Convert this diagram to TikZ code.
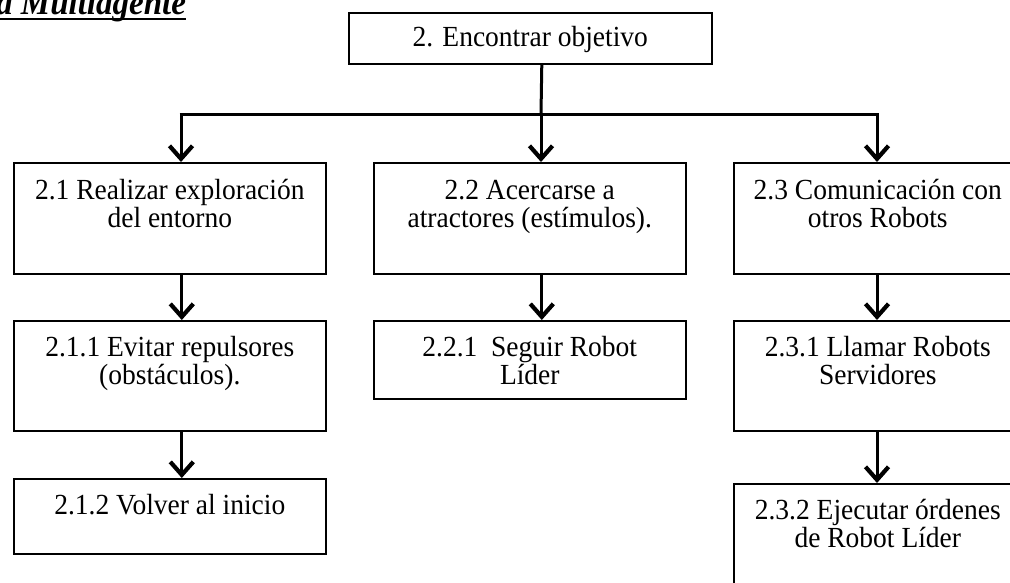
\documentclass[tikz,border=0pt]{standalone}
\usepackage{fontspec}
\setmainfont{Liberation Serif}
\usetikzlibrary{arrows.meta}
% slightly tall setting of the box texts
\newcommand\talltext[1]{\scalebox{1}[1.06]{#1}}
\begin{document}
\begin{tikzpicture}[x=1pt,y=-1pt,
  box/.style={draw, line width=1.6pt, inner sep=0pt, anchor=north west},
  boxtxt/.style={anchor=base, inner sep=0pt, font=\fontsize{27.5}{27}\selectfont},
  link/.style={line width=3pt},
  arr/.style={line width=3pt, -{Straight Barb[length=13pt,width=23pt,line width=4.2pt]}}
]
\useasboundingbox (0,0) rectangle (1010,582);
\clip (0,0) rectangle (1010,582);

% heading, partly outside the page
\node[anchor=base west, inner sep=0pt, font=\bfseries\itshape\fontsize{33}{33}\selectfont] (title) at (-4,14) {\talltext{a Multiagente}};
\draw[line width=1.5pt] ([yshift=-5pt]title.base west) -- ([yshift=-5pt]title.base east);

% boxes
\node[box, minimum width=363pt, minimum height=51pt]  (top)  at (348,12)  {};
\node[box, minimum width=312pt, minimum height=111pt] (b21)  at (13,162)  {};
\node[box, minimum width=312pt, minimum height=111pt] (b22)  at (373,162) {};
\node[box, minimum width=288pt, minimum height=111pt] (b23)  at (733,162) {};
\node[box, minimum width=312pt, minimum height=110pt] (b211) at (13,320)  {};
\node[box, minimum width=312pt, minimum height=78pt]  (b221) at (373,320) {};
\node[box, minimum width=288pt, minimum height=110pt] (b231) at (733,320) {};
\node[box, minimum width=312pt, minimum height=75pt]  (b212) at (13,478)  {};
\node[box, minimum width=288pt, minimum height=120pt] (b232) at (733,483) {};

% box texts
\node[boxtxt] (ttop) at ([yshift=-34pt]top.north) {\talltext{2. Encontrar objetivo}};
\node[boxtxt] (t21)  at ([yshift=-37pt]b21.north) {\talltext{\parbox[t]{300pt}{\centering 2.1 Realizar exploración\\del entorno}}};
\node[boxtxt] (t22)  at ([yshift=-37pt]b22.north) {\talltext{\parbox[t]{300pt}{\centering 2.2 Acercarse a\\atractores (estímulos).}}};
\node[boxtxt] (t23)  at ([yshift=-37pt]b23.north) {\talltext{\parbox[t]{300pt}{\centering 2.3 Comunicación con\\otros Robots}}};
\node[boxtxt] (t211) at ([yshift=-36pt]b211.north) {\talltext{\parbox[t]{300pt}{\centering 2.1.1 Evitar repulsores\\(obstáculos).}}};
\node[boxtxt] (t221) at ([yshift=-36pt]b221.north) {\talltext{\parbox[t]{300pt}{\centering 2.2.1\ \ Seguir Robot\\Líder}}};
\node[boxtxt] (t231) at ([yshift=-36pt]b231.north) {\talltext{\parbox[t]{300pt}{\centering 2.3.1 Llamar Robots\\Servidores}}};
\node[boxtxt] (t212) at ([yshift=-36pt]b212.north) {\talltext{2.1.2 Volver al inicio}};
\node[boxtxt] (t232) at ([yshift=-36pt]b232.north) {\talltext{\parbox[t]{300pt}{\centering 2.3.2 Ejecutar órdenes\\de Robot Líder}}};

% distribution bus
\coordinate (busL) at (181,114);
\coordinate (busM) at (541,114);
\coordinate (busR) at (877,114);
\draw[link] ([xshift=11.5pt]top.south) -- (busM);
\draw[link] ([xshift=-1.5pt]busL) -- ([xshift=1.5pt]busR);
\draw[arr] (busL) -- (busL |- b21.north);
\draw[arr] (busM) -- (busM |- b22.north);
\draw[arr] (busR) -- (busR |- b23.north);

% second and third levels
\draw[arr] ([xshift=12pt]b21.south) -- ([xshift=12pt]b211.north);
\draw[arr] ([xshift=12pt]b211.south) -- ([xshift=12pt]b212.north);
\draw[arr] ([xshift=12pt]b22.south) -- ([xshift=12pt]b221.north);
\draw[arr] (b23.south -| busR) -- (b231.north -| busR);
\draw[arr] (b231.south -| busR) -- (b232.north -| busR);
\end{tikzpicture}
\end{document}
